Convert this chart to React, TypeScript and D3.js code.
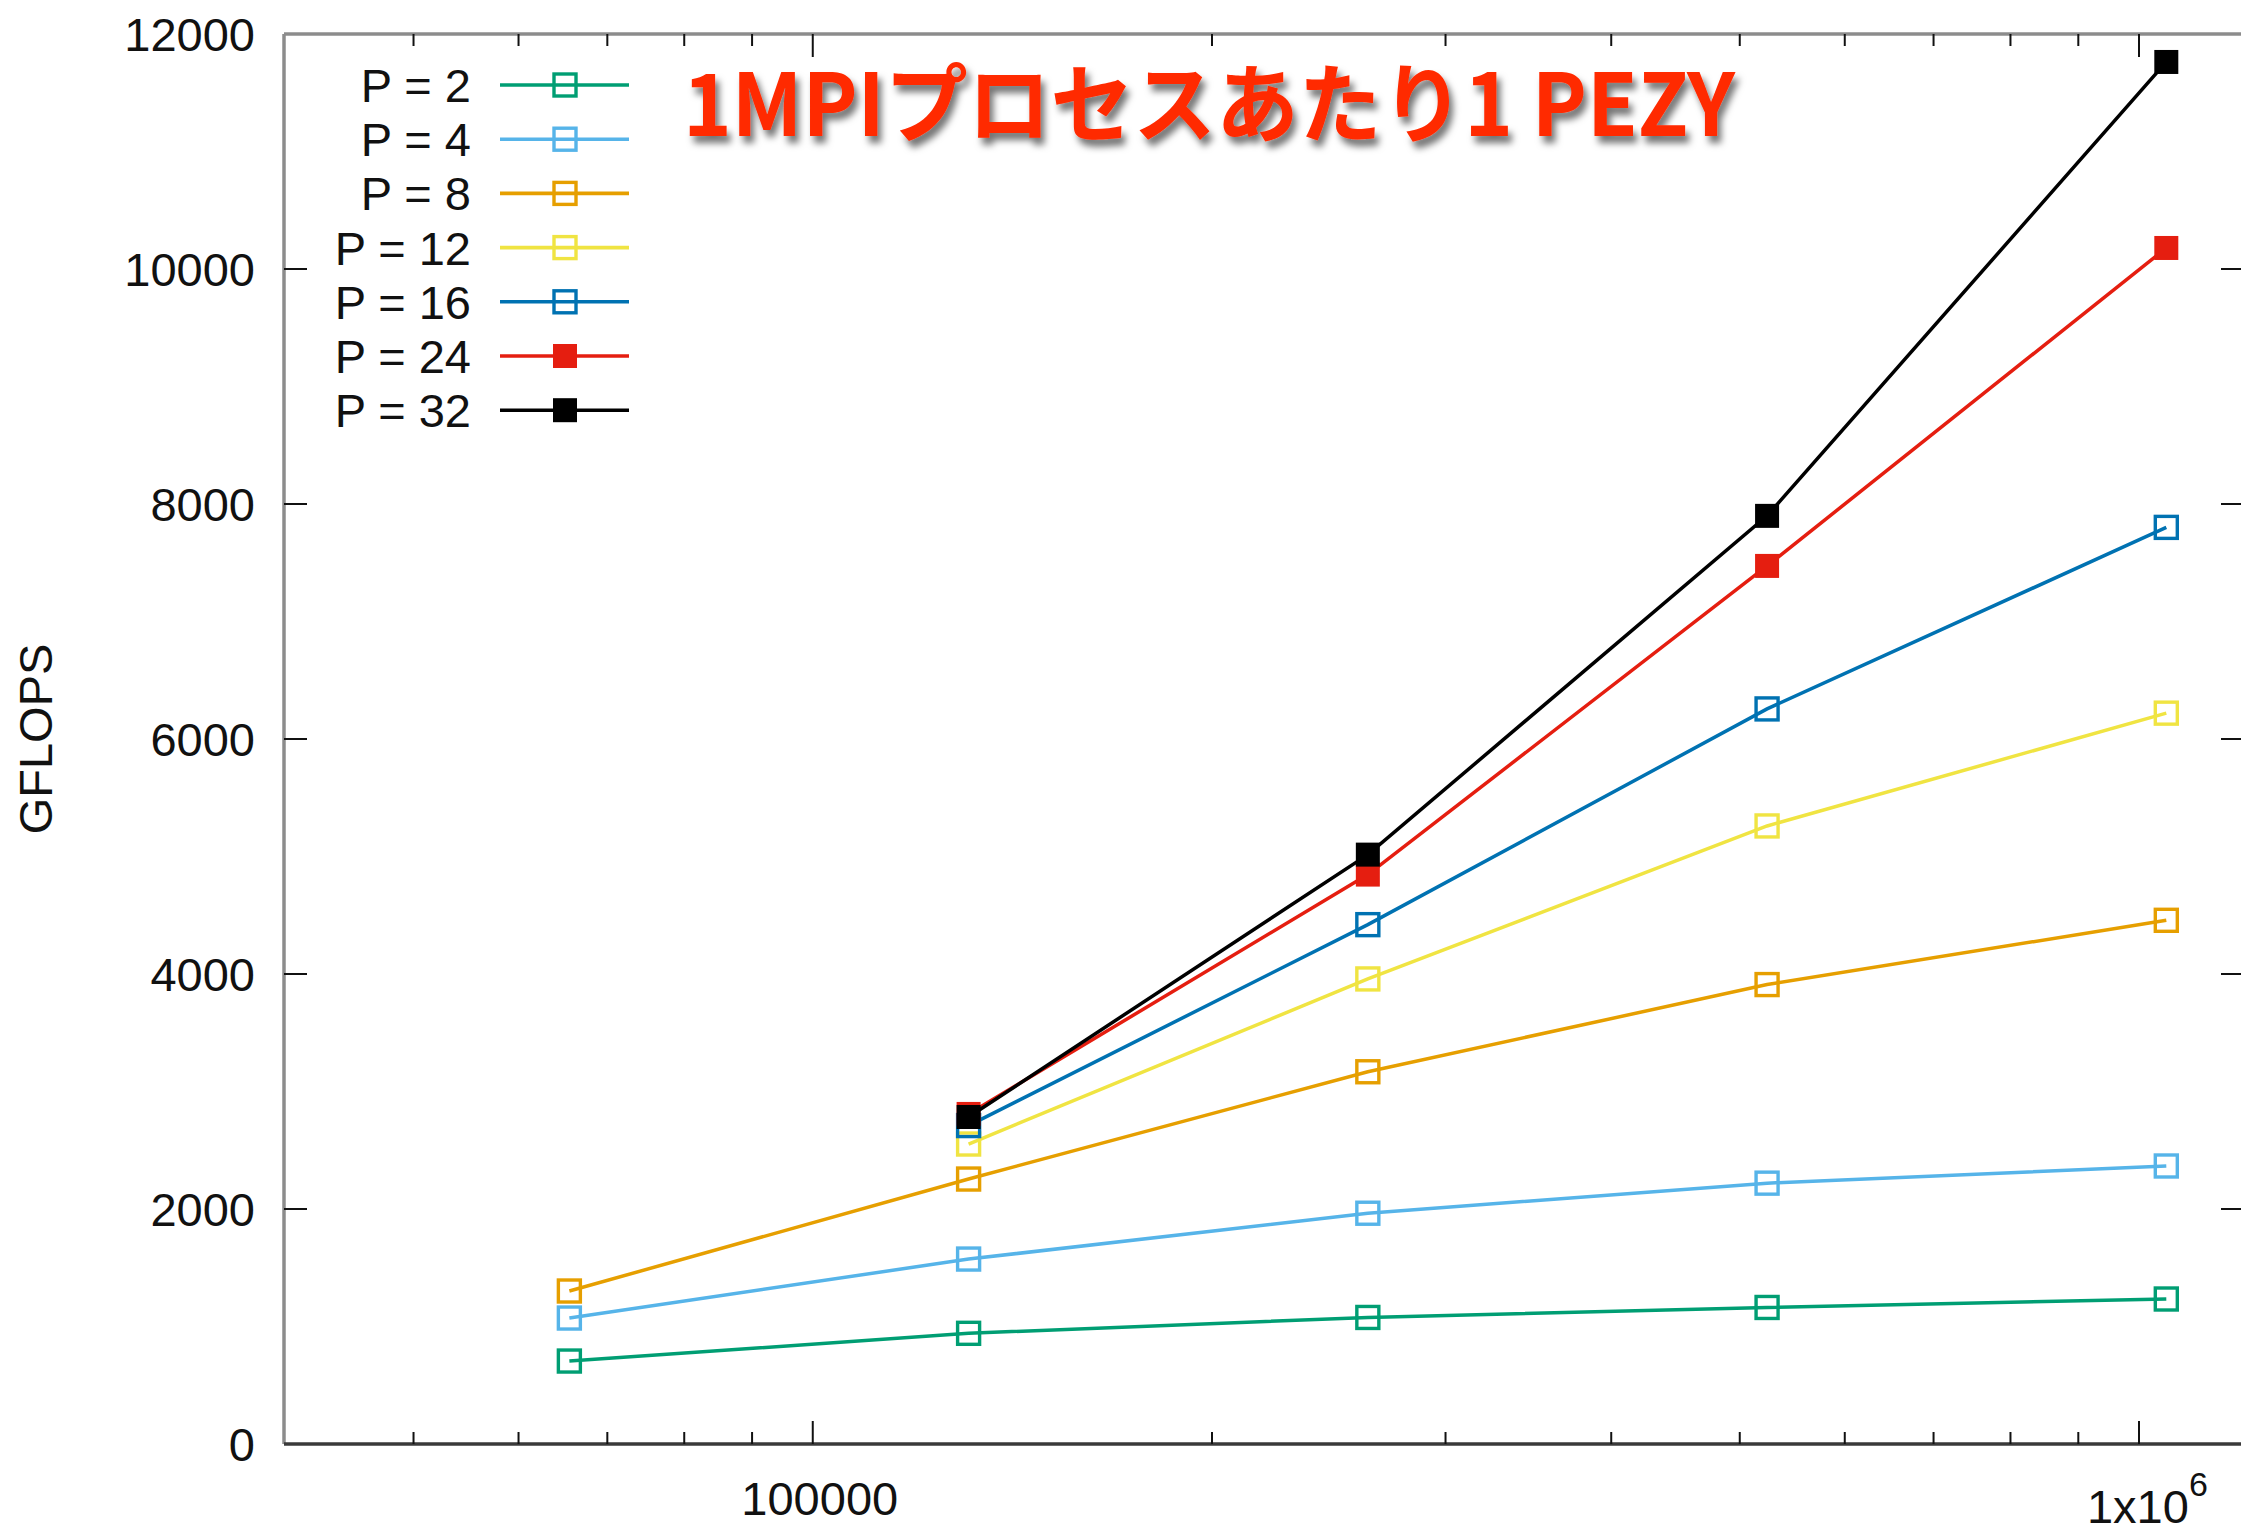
import React from "react";
import * as d3 from "d3";

// Problem sizes (x, log scale) and measured GFLOPS per process count
const problemSizes = [65536, 131072, 262144, 524288, 1048576];
const seriesLabels = ["P = 2", "P = 4", "P = 8", "P = 12", "P = 16", "P = 24", "P = 32"];
const seriesColors = ["#009e73", "#56b4e9", "#e69f00", "#f0e442", "#0072b2", "#e51e10", "#000000"];
const seriesFilled = [false, false, false, false, false, true, true];
const gflopsP2 = [706, 942, 1077, 1162, 1234];
const gflopsP4 = [1072, 1574, 1964, 2220, 2366];
const gflopsP8 = [1302, 2255, 3168, 3910, 4457];
const gflopsP12 = [null, 2553, 3958, 5260, 6220];
const gflopsP16 = [null, 2710, 4420, 6256, 7801];
const gflopsP24 = [null, 2809, 4846, 7473, 10179];
const gflopsP32 = [null, 2783, 5016, 7899, 11762];
const seriesValues = [gflopsP2, gflopsP4, gflopsP8, gflopsP12, gflopsP16, gflopsP24, gflopsP32];

const yTicks = [0, 2000, 4000, 6000, 8000, 10000, 12000];
const xMinorTicks = [50000, 60000, 70000, 80000, 90000, 200000, 300000, 400000, 500000, 600000, 700000, 800000, 900000];
const titleText = "1MPIプロセスあたり1 PEZY";
const yAxisTitle = "GFLOPS";

const W = 2241;
const H = 1529;
const FONT = "'Liberation Sans', Arial, Helvetica, sans-serif";

export default function App() {
  const left = 284;
  const right = 2244;
  const top = 34;
  const bottom = 1444;

  const x = d3.scaleLog().domain([40000, 1.2e6]).range([left + 1, right]);
  const y = d3.scaleLinear().domain([0, 12000]).range([bottom, top]);

  const line = d3
    .line<[number, number | null]>()
    .defined((d) => d[1] !== null)
    .x((d) => x(d[0]))
    .y((d) => y(d[1] as number));

  const majorLen = 23;
  const minorLen = 12;
  const markSize = 22;
  const fillSize = 24;

  const legendTextX = 471;
  const legendLineX0 = 500;
  const legendLineX1 = 629;
  const legendMarkX = 565;
  const legendY0 = 85;
  const legendStep = 54.2;

  const drawMarker = (cx: number, cy: number, color: string, filled: boolean, key: string) =>
    filled ? (
      <rect key={key} x={cx - fillSize / 2} y={cy - fillSize / 2} width={fillSize} height={fillSize} fill={color} />
    ) : (
      <rect
        key={key}
        x={cx - markSize / 2}
        y={cy - markSize / 2}
        width={markSize}
        height={markSize}
        fill="none"
        stroke={color}
        strokeWidth={3.4}
      />
    );

  return (
    <div style={{ position: "absolute", left: 0, top: 0 }}>
      <svg width={W} height={H} viewBox={`0 0 ${W} ${H}`} style={{ display: "block", background: "#fff" }}>
        <defs>
          <filter id="titleShadow" x="-5%" y="-30%" width="115%" height="180%">
            <feDropShadow dx="4" dy="7" stdDeviation="3.5" floodColor="#000" floodOpacity="0.55" />
          </filter>
        </defs>
        <rect x={0} y={0} width={W} height={H} fill="#fff" />

        {/* plot frame */}
        <line x1={left} y1={top} x2={right} y2={top} stroke="#8c8c8c" strokeWidth={3.5} />
        <line x1={left} y1={top} x2={left} y2={bottom} stroke="#8c8c8c" strokeWidth={3.5} />
        <line x1={right} y1={top} x2={right} y2={bottom} stroke="#8c8c8c" strokeWidth={3.5} />
        <line x1={left} y1={bottom} x2={right} y2={bottom} stroke="#3a3a3a" strokeWidth={3.5} />

        {/* y ticks, mirrored on the right */}
        {yTicks.map((t) => (
          <g key={`yt${t}`}>
            {t > 0 && t < 12000 && (
              <>
                <line x1={left} x2={left + majorLen} y1={y(t)} y2={y(t)} stroke="#111" strokeWidth={2} />
                <line x1={right} x2={right - majorLen} y1={y(t)} y2={y(t)} stroke="#111" strokeWidth={2} />
              </>
            )}
            <text
              x={left - 29}
              y={y(t)}
              dy="0.36em"
              textAnchor="end"
              fontFamily={FONT}
              fontSize={47}
              fill="#111"
            >
              {t}
            </text>
          </g>
        ))}

        {/* x ticks, mirrored on top */}
        {[1e5, 1e6].map((t) => (
          <g key={`xt${t}`}>
            <line x1={x(t)} x2={x(t)} y1={bottom} y2={bottom - majorLen} stroke="#111" strokeWidth={2} />
            <line x1={x(t)} x2={x(t)} y1={top} y2={top + majorLen} stroke="#111" strokeWidth={2} />
          </g>
        ))}
        {xMinorTicks.map((t) => (
          <g key={`xm${t}`}>
            <line x1={x(t)} x2={x(t)} y1={bottom} y2={bottom - minorLen} stroke="#111" strokeWidth={2} />
            <line x1={x(t)} x2={x(t)} y1={top} y2={top + minorLen} stroke="#111" strokeWidth={2} />
          </g>
        ))}
        <text x={x(1e5) + 7} y={1515} textAnchor="middle" fontFamily={FONT} fontSize={47} fill="#111">
          100000
        </text>
        <text x={x(1e6) - 52} y={1523} textAnchor="start" fontFamily={FONT} fontSize={47} fill="#111">
          1x10
          <tspan fontSize={34} dy={-27}>
            6
          </tspan>
        </text>

        {/* y axis title */}
        <text
          transform={`translate(52, ${(top + bottom) / 2}) rotate(-90)`}
          textAnchor="middle"
          fontFamily={FONT}
          fontSize={47}
          fill="#111"
        >
          {yAxisTitle}
        </text>

        {/* series */}
        {seriesValues.map((vals, i) => {
          const pts = problemSizes.map((s, j) => [s, vals[j]] as [number, number | null]);
          return (
            <g key={`s${i}`}>
              <path d={line(pts) || ""} fill="none" stroke={seriesColors[i]} strokeWidth={3.5} />
              {pts
                .filter((p) => p[1] !== null)
                .map((p, j) => drawMarker(x(p[0]), y(p[1] as number), seriesColors[i], seriesFilled[i], `m${i}-${j}`))}
            </g>
          );
        })}

        {/* legend */}
        {seriesLabels.map((lab, i) => {
          const ly = legendY0 + i * legendStep;
          return (
            <g key={`lg${i}`}>
              <text x={legendTextX} y={ly} dy="0.36em" textAnchor="end" fontFamily={FONT} fontSize={47} fill="#111">
                {lab}
              </text>
              <line x1={legendLineX0} x2={legendLineX1} y1={ly} y2={ly} stroke={seriesColors[i]} strokeWidth={3.6} />
              {drawMarker(legendMarkX, ly, seriesColors[i], seriesFilled[i], `lm${i}`)}
            </g>
          );
        })}

        {/* headline */}
        <text
          x={683}
          y={136}
          textLength={1052}
          lengthAdjust="spacingAndGlyphs"
          fontFamily="'Noto Sans CJK JP', sans-serif"
          fontWeight={700}
          fontSize={86}
          fill="#ff2a00"
          filter="url(#titleShadow)"
        >
          {titleText}
        </text>
      </svg>
    </div>
  );
}
